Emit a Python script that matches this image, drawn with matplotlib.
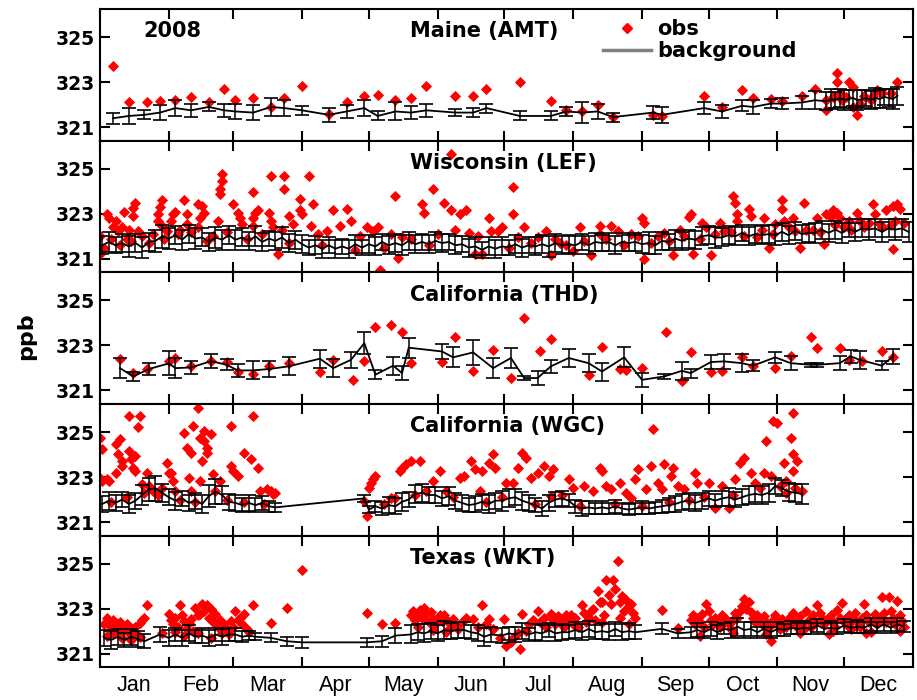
import matplotlib.pyplot as plt
from matplotlib.lines import Line2D

# ---------------- data (day of year 2008, ppb) ----------------
month_names = ["Jan", "Feb", "Mar", "Apr", "May", "Jun",
               "Jul", "Aug", "Sep", "Oct", "Nov", "Dec"]
month_start = [0, 31, 60, 91, 121, 152, 182, 213, 244, 274, 305, 335, 366]

site_titles = ["Maine (AMT)", "Wisconsin (LEF)", "California (THD)",
               "California (WGC)", "Texas (WKT)"]

# --- Maine (AMT)
amt_obs_day = [6, 13, 21, 27, 34, 41, 49, 56, 61, 69,
               77, 83, 91, 103, 111, 119, 125, 133, 140, 147,
               160, 168, 174, 189, 203, 210, 217, 224, 231, 249,
               253, 272, 280, 289, 294, 302, 307, 316, 322, 327,
               327, 330, 332, 332, 333, 334, 336, 337, 339, 339,
               341, 342, 344, 347, 348, 350, 352, 356, 359]
amt_obs_ppb = [323.7, 322.1, 322.1, 322.15, 322.2, 322.35, 322.1, 322.7, 322.2, 322.3,
               321.9, 322.3, 322.85, 321.6, 322.1, 322.4, 322.45, 322.2, 322.3, 322.85,
               322.4, 322.4, 322.7, 323.0, 322.15, 321.75, 321.7, 322.0, 321.45, 321.55,
               321.5, 322.4, 321.9, 322.65, 322.3, 322.25, 322.15, 322.4, 322.7, 322.2,
               321.75, 322.35, 323.4, 323.0, 322.5, 322.2, 322.35, 323.0, 322.8, 321.9,
               321.55, 322.05, 322.4, 322.2, 322.4, 322.65, 322.5, 322.5, 323.0]
amt_bg_day = [6, 13, 20, 27, 34, 41, 49, 56, 61, 69,
              77, 83, 91, 103, 111, 119, 125, 133, 140, 147,
              160, 168, 174, 189, 203, 210, 217, 224, 231, 249,
              253, 272, 280, 289, 294, 302, 307, 316, 322,
              327, 329, 331, 333, 335, 337, 339, 341, 343, 345,
              347, 349, 351, 353, 355, 357, 359]
amt_bg_ppb = [321.4, 321.5, 321.55, 321.65, 321.85, 321.75, 321.9, 321.75, 321.7, 321.65,
              321.9, 321.85, 321.75, 321.55, 321.7, 321.85, 321.5, 321.7, 321.65, 321.75,
              321.65, 321.65, 321.85, 321.5, 321.5, 321.7, 321.65, 321.7, 321.45, 321.65,
              321.55, 321.85, 321.7, 321.95, 321.9, 322.05, 322.05, 322.1, 322.2,
              322.15, 322.25, 322.2, 322.3, 322.2, 322.25, 322.3, 322.2, 322.25, 322.3,
              322.2, 322.3, 322.25, 322.35, 322.3, 322.25, 322.4]
amt_bg_err = [0.25, 0.35, 0.2, 0.35, 0.35, 0.3, 0.2, 0.3, 0.35, 0.35,
              0.4, 0.35, 0.2, 0.3, 0.3, 0.35, 0.2, 0.4, 0.3, 0.3,
              0.15, 0.2, 0.2, 0.2, 0.2, 0.2, 0.45, 0.35, 0.2, 0.3,
              0.35, 0.25, 0.3, 0.25, 0.3, 0.2, 0.25, 0.3, 0.4,
              0.4, 0.45, 0.35, 0.4, 0.45, 0.4, 0.35, 0.45, 0.4, 0.35,
              0.4, 0.45, 0.4, 0.35, 0.4, 0.45, 0.4]

# --- Wisconsin (LEF)
lef_obs_day = [0, 0, 3, 4, 7, 6, 8, 11, 10, 13,
               15, 16, 15, 12, 17, 26, 27, 28, 26, 28,
               30, 33, 34, 32, 36, 38, 39, 39, 44, 46,
               45, 47, 44, 53, 54, 54, 55, 55, 60, 62,
               63, 64, 69, 70, 71, 69, 69, 76, 77, 77,
               78, 80, 82, 83, 83, 85, 87, 90, 90, 91,
               94, 96, 95, 98, 102, 105, 108, 111, 113, 117,
               120, 123, 125, 126, 131, 133, 134, 136, 145, 146,
               150, 152, 155, 158, 158, 160, 162, 165, 166, 169,
               172, 175, 176, 179, 181, 186, 186, 188, 191, 197,
               201, 203, 207, 213, 216, 221, 225, 225, 230, 233,
               239, 244, 245, 245, 251, 254, 258, 261, 265, 266,
               267, 271, 273, 275, 279, 281, 285, 286, 287, 287,
               292, 293, 296, 299, 301, 304, 307, 307, 308, 312,
               313, 315, 317, 321, 323, 326, 327, 329, 330, 332,
               333, 335, 337, 341, 342, 344, 348, 349, 351, 354,
               357, 357, 359, 360, 358, 2, 5, 9, 14, 19,
               22, 24, 29, 35, 41, 48, 51, 57, 66, 73,
               85, 100, 115, 128, 140, 148, 170, 184, 194, 205,
               210, 218, 228, 236, 242, 248, 256, 263, 270, 277,
               284, 290, 298, 303, 310, 318, 324, 331, 338, 346,
               352, 356, 362]
lef_obs_ppb = [321.2, 322.0, 323.0, 322.8, 322.7, 322.4, 322.25, 323.1, 322.4, 322.3,
               323.25, 323.5, 322.9, 321.9, 322.25, 323.0, 323.3, 323.6, 322.7, 322.45,
               322.25, 323.0, 323.1, 322.7, 322.3, 323.6, 323.0, 322.55, 323.45, 323.35,
               322.8, 323.05, 322.4, 322.7, 323.9, 324.1, 324.45, 324.75, 323.45, 323.05,
               322.8, 322.55, 323.95, 323.05, 323.15, 322.8, 322.45, 323.05, 324.7, 322.7,
               322.4, 321.2, 322.3, 324.7, 324.1, 322.9, 322.55, 323.65, 323.15, 323.0,
               324.7, 323.45, 322.45, 322.1, 322.25, 323.15, 322.45, 323.2, 322.7, 322.0,
               322.4, 322.25, 322.4, 320.5, 322.1, 323.8, 321.05, 321.95, 323.45, 323.05,
               324.1, 322.1, 323.5, 325.65, 323.15, 322.3, 323.0, 323.15, 322.15, 321.2,
               321.2, 322.8, 322.25, 322.25, 322.4, 324.2, 323.0, 321.95, 322.4, 321.95,
               322.25, 321.15, 321.7, 321.35, 322.4, 321.15, 322.45, 322.1, 322.45, 322.25,
               322.1, 322.8, 322.6, 321.0, 322.0, 322.15, 321.15, 322.3, 322.85, 323.0,
               321.2, 322.6, 322.4, 321.15, 322.6, 322.25, 323.8, 323.5, 323.0, 322.7,
               323.2, 322.9, 321.95, 322.8, 321.5, 322.55, 323.6, 323.2, 322.7, 322.8,
               322.25, 321.5, 323.5, 322.3, 322.8, 321.65, 323.0, 322.85, 323.15, 323.05,
               322.8, 322.4, 322.7, 323.05, 322.7, 322.4, 323.45, 323.0, 322.55, 323.15,
               321.45, 323.35, 323.45, 323.2, 322.7, 321.5, 321.9, 321.6, 321.8, 322.0,
               321.7, 322.1, 321.9, 322.1, 322.2, 321.8, 322.0, 322.2, 321.9, 322.1,
               321.7, 321.6, 321.4, 321.5, 321.9, 321.6, 322.0, 321.5, 321.7, 321.9,
               321.6, 321.8, 321.9, 321.6, 322.0, 321.7, 321.8, 322.0, 321.9, 322.1,
               322.2, 322.0, 322.3, 322.1, 322.4, 322.3, 322.2, 322.5, 322.3, 322.6,
               322.4, 322.5, 322.6]
lef_bg_day = [1, 4, 7, 10, 13, 16, 19, 22, 25, 28,
              31, 34, 37, 40, 43, 46, 49, 52, 55, 58,
              61, 64, 67, 70, 73, 76, 79, 82, 85, 88,
              91, 94, 97, 100, 103, 106, 109, 112, 115, 118,
              121, 124, 127, 130, 133, 136, 139, 142, 145, 148,
              151, 154, 157, 160, 163, 166, 169, 172, 175, 178,
              181, 184, 187, 190, 193, 196, 199, 202, 205, 208,
              211, 214, 217, 220, 223, 226, 229, 232, 235, 238,
              241, 244, 247, 250, 253, 256, 259, 262, 265, 268,
              271, 274, 277, 280, 283, 286, 289, 292, 295, 298,
              301, 304, 307, 310, 313, 316, 319, 322, 325, 328,
              331, 334, 337, 340, 343, 346, 349, 352, 355, 358,
              361, 364]
lef_bg_ppb = [321.6, 321.75, 321.6, 321.7, 321.55, 321.7, 321.5, 321.75, 321.8, 322.0,
              321.9, 322.05, 321.85, 322.1, 321.9, 321.95, 321.75, 321.95, 321.85, 322.05,
              321.85, 321.95, 321.8, 322.0, 321.75, 321.9, 321.8, 321.95, 321.7, 321.85,
              321.65, 321.5, 321.6, 321.45, 321.6, 321.45, 321.55, 321.45, 321.65, 321.5,
              321.65, 321.55, 321.75, 321.6, 321.7, 321.6, 321.8, 321.65, 321.75, 321.65,
              321.8, 321.7, 321.75, 321.6, 321.65, 321.5, 321.55, 321.4, 321.55, 321.45,
              321.55, 321.5, 321.65, 321.5, 321.6, 321.55, 321.65, 321.55, 321.7, 321.6,
              321.65, 321.6, 321.75, 321.6, 321.75, 321.7, 321.75, 321.6, 321.75, 321.7,
              321.75, 321.65, 321.7, 321.6, 321.8, 321.75, 321.9, 321.8, 321.9, 321.85,
              322.0, 322.05, 321.95, 321.95, 322.05, 322.0, 322.15, 322.0, 322.1, 322.05,
              322.1, 322.05, 322.2, 322.05, 322.25, 322.1, 322.15, 322.15, 322.3, 322.15,
              322.3, 322.15, 322.35, 322.2, 322.35, 322.3, 322.35, 322.2, 322.35, 322.3,
              322.35, 322.2]
lef_bg_err = [0.4, 0.45, 0.35, 0.4, 0.45, 0.4, 0.45, 0.4, 0.5, 0.5,
              0.45, 0.4, 0.45, 0.4, 0.45, 0.4, 0.4, 0.45, 0.45, 0.4,
              0.45, 0.4, 0.4, 0.45, 0.4, 0.35, 0.4, 0.45, 0.4, 0.4,
              0.4, 0.35, 0.4, 0.4, 0.35, 0.4, 0.35, 0.4, 0.4, 0.35,
              0.4, 0.4, 0.35, 0.4, 0.4, 0.45, 0.4, 0.4, 0.35, 0.4,
              0.4, 0.4, 0.35, 0.4, 0.35, 0.4, 0.4, 0.35, 0.4, 0.4,
              0.4, 0.35, 0.4, 0.4, 0.35, 0.4, 0.4, 0.45, 0.4, 0.4,
              0.4, 0.4, 0.35, 0.4, 0.4, 0.35, 0.4, 0.4, 0.4, 0.35,
              0.4, 0.4, 0.5, 0.4, 0.4, 0.35, 0.4, 0.4, 0.4, 0.4,
              0.4, 0.4, 0.45, 0.4, 0.4, 0.4, 0.35, 0.4, 0.4, 0.4,
              0.4, 0.45, 0.4, 0.4, 0.4, 0.4, 0.4, 0.45, 0.4, 0.4,
              0.4, 0.45, 0.4, 0.4, 0.4, 0.45, 0.4, 0.45, 0.4, 0.45,
              0.4, 0.45]

# --- California (THD)
thd_obs_day = [9, 15, 21, 31, 34, 41, 50, 57, 62, 69,
               76, 85, 99, 105, 114, 119, 124, 131, 136, 140,
               154, 160, 168, 177, 185, 191, 198, 203, 220, 226,
               234, 237, 244, 255, 262, 266, 275, 280, 289, 294,
               304, 311, 320, 323, 333, 337, 343, 352, 357]
thd_obs_ppb = [322.41, 321.77, 321.95, 322.32, 322.44, 322.1, 322.3, 322.26, 321.81, 321.74,
               322.1, 322.2, 321.84, 322.36, 321.47, 322.3, 323.81, 323.89, 323.58, 322.2,
               322.26, 323.36, 321.87, 322.8, 321.55, 324.21, 322.73, 323.28, 321.7, 322.93,
               321.96, 321.9, 321.99, 323.58, 321.43, 322.7, 321.84, 321.87, 322.47, 322.1,
               322.0, 322.51, 323.36, 322.88, 322.88, 322.36, 322.3, 322.76, 322.47]
thd_bg_day = [9, 15, 22, 31, 34, 41, 50, 57, 62, 69,
              76, 85, 99, 105, 113, 119, 124, 132, 136, 139,
              154, 159, 168, 177, 185, 191, 197, 203, 211, 220,
              226, 236, 244, 254, 262, 266, 275, 281, 289, 294,
              304, 311, 320, 323, 333, 338, 342, 352, 357]
thd_bg_ppb = [321.99, 321.62, 321.95, 322.2, 321.99, 322.02, 322.3, 322.14, 321.89, 321.89,
              321.95, 322.07, 322.41, 321.99, 322.36, 323.1, 321.7, 322.1, 321.77, 322.9,
              322.73, 322.47, 322.69, 321.99, 322.44, 321.55, 321.55, 322.07, 322.44, 322.21,
              321.84, 322.47, 321.47, 321.62, 321.87, 321.77, 322.26, 322.29, 322.21, 322.1,
              322.47, 322.21, 322.14, 322.14, 322.21, 322.51, 322.36, 322.1, 322.51]
thd_bg_err = [0.43, 0.22, 0.28, 0.53, 0.44, 0.3, 0.3, 0.25, 0.3, 0.4,
              0.35, 0.4, 0.4, 0.4, 0.35, 0.5, 0.2, 0.4, 0.3, 0.45,
              0.35, 0.45, 0.55, 0.45, 0.45, 0.1, 0.3, 0.3, 0.4, 0.4,
              0.4, 0.45, 0.3, 0.1, 0.4, 0.2, 0.3, 0.35, 0.4, 0.25,
              0.25, 0.3, 0.1, 0.1, 0.3, 0.3, 0.4, 0.2, 0.35]

# --- California (WGC)
wgc_obs_day = [0, 1, 0, 1, 3, 4, 7, 7, 9, 8,
               10, 10, 13, 13, 14, 15, 16, 18, 17, 16,
               19, 21, 22, 24, 30, 31, 32, 33, 28, 34,
               38, 39, 41, 42, 44, 40, 41, 45, 47, 47,
               48, 48, 50, 46, 45, 51, 54, 59, 59, 60,
               62, 65, 68, 69, 71, 72, 75, 77, 78, 79,
               120, 119, 121, 122, 123, 124, 131, 133, 135, 136,
               138, 140, 144, 150, 153, 156, 162, 164, 167, 169,
               171, 172, 175, 177, 178, 183, 186, 188, 190, 192,
               194, 197, 200, 202, 204, 203, 211, 213, 218, 222,
               225, 226, 228, 230, 234, 237, 239, 241, 242, 246,
               248, 249, 251, 253, 254, 257, 258, 260, 263, 268,
               269, 274, 277, 280, 283, 286, 288, 290, 293, 295,
               299, 300, 303, 305, 302, 308, 309, 311, 312, 312,
               312, 314, 309, 313,
               5, 12, 20, 26, 36, 43, 52, 57, 65, 74,
               128, 142, 147, 159, 174, 181, 196, 208, 216, 232,
               244, 256, 265, 272, 285, 297, 306, 316]
wgc_obs_ppb = [324.75, 324.23, 322.97, 322.82, 322.9, 322.82, 323.19, 324.45, 324.68, 324.01,
               323.71, 323.49, 325.71, 324.16, 323.79, 323.41, 323.27, 325.71, 325.22, 323.93,
               322.67, 323.19, 322.6, 322.38, 323.64, 323.19, 323.19, 322.82, 322.52, 322.38,
               324.97, 324.3, 324.08, 325.27, 326.08, 322.97, 322.38, 324.75, 325.04, 324.6,
               324.3, 324.08, 324.9, 323.71, 322.82, 323.12, 322.82, 325.27, 323.49, 323.27,
               323.04, 324.08, 323.79, 325.71, 323.41, 322.38, 322.45, 322.38, 322.23, 322.3,
               321.27, 321.93, 322.52, 322.75, 322.9, 323.04, 322.08, 322.08, 323.27, 323.41,
               323.56, 323.71, 323.71, 322.82, 323.27, 322.38, 322.97, 323.04, 323.71, 323.34,
               322.38, 323.27, 323.64, 324.01, 323.41, 322.75, 322.75, 323.41, 324.08, 323.86,
               322.97, 323.19, 323.49, 323.04, 323.34, 322.16, 322.9, 322.52, 322.6, 322.38,
               323.41, 323.27, 322.6, 322.45, 322.75, 322.3, 322.08, 322.9, 323.34, 322.45,
               323.49, 325.12, 322.75, 322.45, 323.56, 323.04, 323.41, 322.6, 322.45, 323.19,
               322.75, 322.75, 321.64, 322.6, 321.64, 322.9, 323.64, 323.86, 323.19, 322.75,
               323.19, 324.6, 325.49, 325.41, 323.04, 323.64, 322.82, 324.75, 325.86, 324.01,
               323.27, 323.71, 322.3, 322.52,
               321.9, 322.1, 322.3, 322.2, 322.0, 321.9, 322.4, 322.0, 321.9, 321.8,
               321.8, 322.2, 322.4, 322.1, 321.9, 322.1, 321.8, 322.2, 321.7, 321.8,
               321.7, 321.9, 322.0, 322.1, 322.2, 322.5, 322.6, 322.4]
wgc_bg_day = [1, 4, 7, 10, 13, 16, 19, 22, 25, 28,
              31, 34, 37, 40, 43, 46, 49, 52, 55, 58,
              61, 64, 67, 70, 73, 76, 79,
              119,
              121, 124, 127, 130, 133, 136, 139, 142, 145, 148,
              151, 154, 157, 160, 163, 166, 169, 172, 175, 178,
              181, 184, 187, 190, 193, 196, 199, 202, 205, 208,
              211, 214, 217, 220, 223, 226, 229, 232, 235, 238,
              241, 244, 247, 250, 253, 256, 259, 262, 265, 268,
              271, 274, 277, 280, 283, 286, 289, 292, 295, 298,
              301, 304, 307, 310, 313, 316]
wgc_bg_ppb = [321.8, 321.95, 321.85, 322.0, 321.8, 321.95, 322.2, 322.45, 322.5, 322.3,
              322.1, 321.95, 322.05, 321.85, 321.95, 321.8, 322.15, 322.35, 322.2, 321.9,
              321.85, 321.75, 321.85, 321.75, 321.85, 321.7, 321.65,
              322.05,
              321.55, 321.7, 321.6, 321.75, 321.7, 321.9, 322.0, 322.25, 322.3, 322.2,
              322.2, 322.05, 322.15, 321.95, 321.85, 321.75, 321.8, 321.9, 321.8, 321.95,
              321.95, 322.05, 322.1, 321.95, 321.85, 321.75, 321.6, 321.85, 322.0, 322.05,
              321.95, 321.7, 321.6, 321.65, 321.6, 321.65, 321.6, 321.7, 321.6, 321.55,
              321.6, 321.65, 321.6, 321.65, 321.7, 321.75, 321.8, 321.9, 321.95, 321.85,
              321.95, 322.05, 321.95, 322.05, 322.1, 322.0, 322.1, 322.2, 322.25, 322.2,
              322.3, 322.6, 322.5, 322.35, 322.3, 322.25]
wgc_bg_err = [0.35, 0.4, 0.35, 0.35, 0.4, 0.35, 0.45, 0.5, 0.55, 0.4,
              0.35, 0.4, 0.35, 0.35, 0.35, 0.4, 0.5, 0.55, 0.4, 0.35,
              0.35, 0.3, 0.35, 0.3, 0.3, 0.25, 0.2,
              0.15,
              0.15, 0.25, 0.3, 0.35, 0.35, 0.4, 0.35, 0.4, 0.4, 0.35,
              0.35, 0.35, 0.4, 0.35, 0.35, 0.3, 0.35, 0.35, 0.4, 0.35,
              0.45, 0.4, 0.35, 0.4, 0.35, 0.3, 0.35, 0.35, 0.35, 0.35,
              0.3, 0.3, 0.35, 0.3, 0.25, 0.3, 0.25, 0.3, 0.25, 0.25,
              0.25, 0.3, 0.25, 0.25, 0.3, 0.3, 0.35, 0.35, 0.35, 0.35,
              0.35, 0.35, 0.3, 0.35, 0.4, 0.35, 0.35, 0.4, 0.35, 0.4,
              0.4, 0.35, 0.35, 0.4, 0.4, 0.45]

# --- Texas (WKT)
wkt_obs_day = [2, 3, 4, 5, 6, 7, 8, 9, 10, 11,
               12, 13, 14, 15, 16, 17, 18, 19, 20, 21,
               3, 6, 10, 14, 18, 28,
               31, 32, 33, 34, 35, 36, 37, 38, 39, 40,
               41, 42, 43, 44, 45, 46, 47, 48, 49, 50,
               51, 52, 53, 54, 55, 56, 57, 58, 34, 38, 44, 50,
               59, 60, 61, 62, 63, 64, 65, 66, 67, 69, 77, 84, 91,
               120, 127, 133,
               140, 141, 142, 143, 144, 145, 146, 147, 148, 149,
               150, 151, 152, 153, 154, 155, 156, 157, 158, 159,
               160, 161, 143, 150, 156,
               163, 165, 168, 170, 172, 174, 175, 177, 180, 182,
               183, 185, 186, 188, 189, 190, 192,
               193, 195, 197, 198, 200, 201, 203, 204, 205, 206,
               207, 208, 209, 210, 211, 212, 213, 214, 215, 217,
               218, 219, 220,
               221, 222, 223, 224, 225, 226, 227, 228, 229, 230,
               231, 232, 233, 234, 235, 236, 237, 238, 239, 240,
               241, 226, 234, 238,
               253, 260,
               266, 267, 268, 269, 270, 271, 272, 273, 274, 275,
               276, 277, 278, 279, 280, 281, 282, 283, 284, 285,
               286, 287, 288, 289, 290, 291, 292, 293, 294, 295,
               296, 297, 298, 299, 300, 301, 302, 303, 304, 305,
               306, 307, 308, 309, 310, 311, 312, 313, 314, 315,
               316, 317, 318, 319, 320, 321, 322, 323, 324, 325,
               326, 327, 328, 329, 330, 331, 332, 333, 334, 335,
               336, 337, 338, 339, 340, 341, 342, 343, 344, 345,
               346, 347, 348, 349, 350, 351, 352, 353, 354, 355,
               356, 357, 358, 359, 360, 361, 362,
               270, 285, 300, 315, 330, 345, 360]
wkt_obs_ppb = [322.3, 322.6, 322.45, 322.2, 322.5, 322.35, 322.0, 322.4, 322.25, 322.1,
               322.3, 321.9, 322.15, 322.0, 322.2, 321.8, 322.35, 322.5, 322.6, 323.18,
               321.8, 321.9, 321.7, 321.6, 321.75, 321.93,
               322.78, 322.5, 322.3, 322.6, 322.2, 323.15, 322.7, 322.45, 322.1, 322.35,
               322.55, 322.0, 323.04, 322.7, 322.78, 323.22, 322.9, 323.15, 322.6, 323.0,
               322.4, 322.75, 322.2, 322.5, 321.9, 322.3, 322.1, 321.85, 321.95, 321.8, 321.9, 321.7,
               322.47, 322.2, 322.9, 322.5, 322.6, 322.3, 322.75, 322.1, 321.95, 323.15, 322.38, 323.04, 324.73,
               322.82, 322.3, 322.38,
               322.7, 322.9, 322.5, 322.8, 322.95, 322.6, 323.04, 322.75, 322.4, 322.85,
               322.55, 322.3, 322.6, 322.7, 322.45, 322.7, 322.5, 322.4, 322.2, 322.55,
               322.3, 322.1, 322.2, 322.05, 321.95,
               322.4, 322.6, 322.55, 322.2, 323.15, 322.3, 322.55, 322.1, 321.7, 322.55,
               321.36, 321.5, 321.7, 321.9, 321.22, 322.78, 322.0,
               322.3, 322.5, 322.9, 322.4, 322.6, 322.2, 322.78, 322.5, 322.3, 322.65,
               322.4, 322.55, 322.2, 322.7, 322.45, 322.7, 322.3, 322.6, 322.2, 323.15,
               322.8, 322.4, 322.6,
               322.9, 323.0, 322.5, 323.8, 323.3, 323.3, 322.7, 324.29, 323.6, 323.2,
               324.29, 323.86, 325.13, 323.3, 323.58, 322.9, 323.4, 323.1, 323.22, 322.8,
               322.6, 322.4, 322.6, 322.3,
               322.95, 322.16,
               322.5, 322.7, 322.3, 322.6, 322.4, 322.75, 322.2, 323.22, 322.9, 322.5,
               322.3, 322.6, 322.45, 322.2, 322.7, 322.4, 322.55, 322.3, 322.1, 322.5,
               322.8, 322.6, 322.9, 323.1, 323.43, 323.0, 323.3, 322.85, 322.6, 322.4,
               322.7, 322.5, 322.3, 322.65, 322.4, 322.2, 321.58, 322.5, 322.7, 322.3,
               322.1, 322.55, 322.4, 322.2, 322.6, 322.3, 322.8, 322.4, 322.2, 322.65,
               322.3, 322.1, 322.9, 322.5, 322.2, 322.7, 322.4, 323.15, 322.8, 322.6,
               322.3, 322.5, 321.85, 322.7, 322.4, 322.2, 322.95, 322.6, 323.25, 322.5,
               322.3, 322.7, 322.1, 322.5, 322.8, 322.4, 322.2, 322.6, 323.22, 322.7,
               322.4, 321.95, 322.5, 322.75, 322.3, 322.6, 323.5, 322.8, 322.4, 323.5,
               322.9, 322.6, 322.3, 323.36, 322.7, 322.45, 322.2,
               321.8, 321.9, 321.85, 321.9, 322.0, 321.9, 322.0]
wkt_bg_day = [2, 5, 8, 11, 14, 17, 20, 27,
              31, 34, 37, 40, 43, 46, 49, 52, 55, 58,
              61, 64, 67, 70, 77, 84, 91, 120, 127, 133,
              140, 143, 146, 149, 152, 155, 158, 161,
              164, 167, 170, 173, 176,
              181, 184, 187, 190, 193, 196, 199, 202, 205, 208,
              211, 214, 217, 220, 223, 226, 229, 232, 235, 238, 241,
              253, 260,
              266, 269, 272, 275, 278, 281, 284, 287, 290, 293,
              296, 299, 302, 305, 308, 311, 314, 317, 320, 323,
              326, 329, 332, 335, 338, 341, 344, 347, 350, 353,
              356, 359, 362]
wkt_bg_ppb = [321.7, 321.6, 321.75, 321.6, 321.75, 321.65, 321.55, 321.85,
              321.7, 321.85, 321.7, 321.9, 321.75, 321.8, 321.7, 321.85, 321.75, 321.85,
              321.85, 321.75, 321.8, 321.75, 321.7, 321.55, 321.5, 321.5, 321.55, 321.8,
              321.85, 321.95, 321.9, 322.0, 321.9, 322.05, 322.0, 322.05,
              322.05, 321.95, 321.9, 321.75, 321.85,
              321.8, 321.9, 321.85, 322.0, 321.85, 321.95, 321.9, 322.05, 321.9, 321.95,
              321.95, 322.05, 321.95, 322.1, 321.95, 322.0, 321.95, 322.1, 321.95, 322.0, 321.95,
              322.1, 321.9,
              321.95, 322.05, 321.95, 322.1, 321.95, 322.1, 322.05, 322.2, 322.05, 322.1,
              321.95, 322.1, 321.95, 322.1, 322.05, 322.15, 322.1, 322.15, 322.1, 322.25,
              322.1, 322.15, 322.1, 322.25, 322.15, 322.2, 322.15, 322.3, 322.15, 322.3,
              322.15, 322.3, 322.2]
wkt_bg_err = [0.35, 0.4, 0.35, 0.3, 0.35, 0.35, 0.3, 0.35,
              0.35, 0.3, 0.35, 0.35, 0.3, 0.35, 0.35, 0.3, 0.35, 0.3,
              0.3, 0.25, 0.2, 0.15, 0.2, 0.2, 0.25, 0.2, 0.25, 0.35,
              0.4, 0.35, 0.4, 0.35, 0.35, 0.4, 0.35, 0.35,
              0.35, 0.3, 0.35, 0.4, 0.35,
              0.35, 0.3, 0.35, 0.35, 0.3, 0.35, 0.35, 0.3, 0.35, 0.35,
              0.3, 0.35, 0.35, 0.35, 0.3, 0.35, 0.35, 0.3, 0.35, 0.35, 0.3,
              0.25, 0.2,
              0.25, 0.3, 0.25, 0.3, 0.3, 0.25, 0.35, 0.4, 0.35, 0.3,
              0.25, 0.3, 0.25, 0.3, 0.25, 0.3, 0.25, 0.3, 0.25, 0.3,
              0.25, 0.3, 0.25, 0.3, 0.25, 0.3, 0.25, 0.3, 0.25, 0.3,
              0.25, 0.3, 0.25]

sites = [
    (amt_obs_day, amt_obs_ppb, amt_bg_day, amt_bg_ppb, amt_bg_err),
    (lef_obs_day, lef_obs_ppb, lef_bg_day, lef_bg_ppb, lef_bg_err),
    (thd_obs_day, thd_obs_ppb, thd_bg_day, thd_bg_ppb, thd_bg_err),
    (wgc_obs_day, wgc_obs_ppb, wgc_bg_day, wgc_bg_ppb, wgc_bg_err),
    (wkt_obs_day, wkt_obs_ppb, wkt_bg_day, wkt_bg_ppb, wkt_bg_err),
]

# ---------------- plot ----------------
plt.rcParams['font.family'] = 'DejaVu Sans'

fig, axes = plt.subplots(5, 1, figsize=(9.17, 7.0), dpi=100, sharex=True)
fig.subplots_adjust(left=0.109, right=0.9956, top=0.987, bottom=0.047, hspace=0)

month_mid = [(month_start[i] + month_start[i + 1]) / 2 for i in range(12)]

for ax, title, (od, op, bd, bp, be) in zip(axes, site_titles, sites):
    ax.plot(od, op, ls='none', marker='D', ms=5, color='red', mec='red',
            mew=0.6, zorder=2)
    ax.errorbar(bd, bp, yerr=be, color='black', lw=1.3, elinewidth=1.1,
                capsize=5, capthick=1.2, zorder=3)

    ax.set_xlim(0, 366)
    ax.set_ylim(320.4, 326.25)
    ax.set_yticks([321, 323, 325])
    ax.set_yticklabels(['321', '323', '325'], fontsize=13.5, fontweight='bold')
    ax.set_xticks(month_start)
    ax.set_xticklabels([''] * len(month_start))
    ax.set_xticks(month_mid, minor=True)
    ax.tick_params(which='major', direction='in', length=7, width=1.5,
                   top=True, right=True)
    ax.tick_params(which='minor', length=0)
    for s in ax.spines.values():
        s.set_linewidth(1.5)

    ax.text(0.381, 0.83, title, transform=ax.transAxes, fontsize=15,
            fontweight='bold', ha='left', va='center')
    if ax is not axes[-1]:
        ax.tick_params(which='both', labelbottom=False)

axes[-1].set_xticklabels(month_names, minor=True, fontsize=15.5,
                         family='Liberation Sans')
axes[-1].tick_params(which='minor', pad=6)

axes[0].text(0.053, 0.83, '2008', transform=axes[0].transAxes, fontsize=15,
             fontweight='bold', ha='left', va='center')

handles = [Line2D([], [], ls='none', marker='D', ms=5.5, color='red'),
           Line2D([], [], color='grey', lw=2.5)]
axes[0].legend(handles, ['obs', 'background'], loc='upper left',
               bbox_to_anchor=(0.619, 0.925), frameon=False,
               prop=dict(weight='bold', size=15), handlelength=2.3,
               handletextpad=0.3, labelspacing=0.12, borderaxespad=0,
               borderpad=0)

fig.text(0.028, 0.52, 'ppb', rotation=90, fontsize=16, fontweight='bold',
         ha='center', va='center')

fig.savefig('out.png', dpi=100)
